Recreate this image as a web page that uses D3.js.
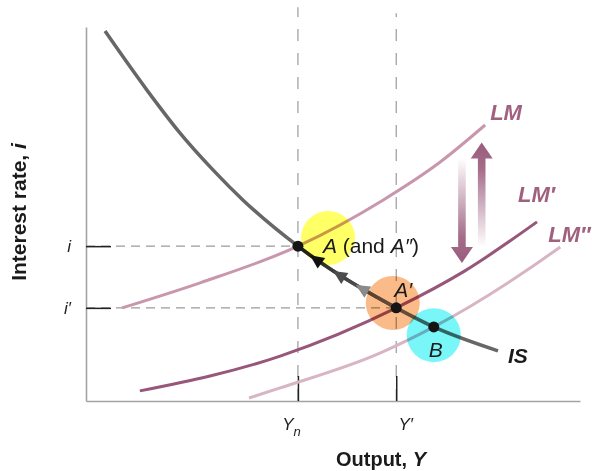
<!DOCTYPE html>
<html><head><meta charset="utf-8">
<script src="https://cdn.jsdelivr.net/npm/d3@7"></script>
<style>
html,body{margin:0;padding:0;background:#fff;}
svg{display:block;font-family:"Liberation Sans",Arial,Helvetica,sans-serif;}
</style></head><body>
<svg id="chart" width="592" height="471"></svg>
<script>
// Axis markers: output levels and interest rates
const outputTicks = [42.9, 62.8];          // Y_n, Y'
const outputTickLabels = ["Y|n", "Y′"];
const rateTicks = [41.4, 24.9];            // i, i'
const rateTickLabels = ["i", "i′"];

// Curves as [output, interest rate] points
const isPoints  = [[3.85,98.9],[12.3,83.2],[19.0,71.7],[25.7,61.8],[31.8,53.7],[42.9,41.4],[62.8,24.9],[70.4,19.8],[83.4,13.4]];
const lmPoints  = [[7.3,24.9],[23.1,31.6],[42.9,41.4],[60.1,53.7],[71.7,63.9],[80.8,73.8]];
const lm1Points = [[10.9,2.7],[39.3,12.0],[62.8,24.9],[76.7,34.8],[91.3,47.9]];
const lm2Points = [[33.0,0.8],[39.3,3.5],[59.5,12.8],[70.4,19.8],[89.3,35.0],[96.0,41.2]];
const curveNames = ["LM", "LM′", "LM″"];

// Equilibrium points
const eqNames  = ["A", "A′", "B"];
const eqOutput = [42.9, 62.8, 70.4];
const eqRate   = [41.4, 24.9, 19.8];

// Highlight discs around the equilibria
const haloOutput = [49.0, 62.1, 70.4];
const haloRate   = [43.6, 26.2, 17.6];

// Shift arrows for the LM curve: [output, tail rate, tip rate]
const shiftArrows = [[80.1, 41.2, 69.1], [76.1, 65.0, 36.9]];

const svg = d3.select("#chart");
const x = d3.scaleLinear().domain([0, 100]).range([86, 580]);
const y = d3.scaleLinear().domain([0, 100]).range([401, 27]);

const defs = svg.append("defs");

// Dashed guide lines
const guides = svg.append("g").attr("stroke", "#9b9b9b").attr("stroke-width", 1.2).attr("fill", "none");
guides.append("line").attr("x1", x(outputTicks[0])).attr("x2", x(outputTicks[0]))
  .attr("y1", y(0)).attr("y2", y(105.3)).attr("stroke-dasharray", "12,12");
guides.append("line").attr("x1", x(outputTicks[1])).attr("x2", x(outputTicks[1]))
  .attr("y1", y(0)).attr("y2", y(103.7)).attr("stroke-dasharray", "12,12");
guides.append("line").attr("x1", x(0)).attr("x2", x(outputTicks[0]))
  .attr("y1", y(rateTicks[0])).attr("y2", y(rateTicks[0])).attr("stroke-dasharray", "9,6");
guides.append("line").attr("x1", x(0)).attr("x2", x(outputTicks[1]))
  .attr("y1", y(rateTicks[1])).attr("y2", y(rateTicks[1])).attr("stroke-dasharray", "9,6");

// Axes
function styleAxis(g) {
  g.select(".domain").attr("stroke", "#a3a3a3").attr("stroke-width", 1.6);
  g.selectAll(".tick line").attr("stroke", "#222").attr("stroke-width", 1.5);
  g.selectAll(".tick text").attr("fill", "#222").attr("font-size", 17)
    .attr("font-style", "italic").attr("font-family", "Liberation Sans, Arial, sans-serif");
}
const gy = svg.append("g").attr("transform", `translate(${x(0)},0)`)
  .call(d3.axisLeft(y).tickValues(rateTicks).tickSizeInner(-25).tickSizeOuter(0)
    .tickPadding(15).tickFormat((d, i) => rateTickLabels[i]));
styleAxis(gy);

const gx = svg.append("g").attr("transform", `translate(0,${y(0)})`)
  .call(d3.axisBottom(x).tickValues(outputTicks).tickSizeInner(-25).tickSizeOuter(0)
    .tickPadding(17).tickFormat((d, i) => outputTickLabels[i]));
styleAxis(gx);
gx.selectAll(".tick text").each(function(d, i) {
  const t = d3.select(this);
  const parts = outputTickLabels[i].split("|");
  t.text(null);
  t.append("tspan").text(parts[0]);
  if (parts[1]) t.append("tspan").attr("dy", "0.45em").attr("font-size", 13).text(parts[1]);
  t.attr("dx", i === 0 ? -7 : 9);
});

// Curves
const line = d3.line().x(d => x(d[0])).y(d => y(d[1])).curve(d3.curveMonotoneX);
const curves = svg.append("g").attr("fill", "none").attr("stroke-linecap", "butt");
curves.append("path").datum(lm2Points).attr("d", line).attr("stroke", "#d8b5c4").attr("stroke-width", 3);
curves.append("path").datum(lmPoints).attr("d", line).attr("stroke", "#c997ad").attr("stroke-width", 3);
curves.append("path").datum(lm1Points).attr("d", line).attr("stroke", "#97567a").attr("stroke-width", 3);
const isPath = curves.append("path").datum(isPoints).attr("d", line)
  .attr("stroke", "#676767").attr("stroke-width", 3.5);

// Path from A' back to A along IS
const node = isPath.node();
const total = node.getTotalLength();
function lengthAtX(px) {
  let lo = 0, hi = total;
  for (let k = 0; k < 40; k++) {
    const mid = (lo + hi) / 2;
    if (node.getPointAtLength(mid).x < px) lo = mid; else hi = mid;
  }
  return (lo + hi) / 2;
}
const lA = lengthAtX(x(eqOutput[0]));
const lA1 = lengthAtX(x(eqOutput[1]));
const seg = d3.range(0, 41).map(k => {
  const p = node.getPointAtLength(lA + (lA1 - lA) * k / 40);
  return [p.x, p.y];
});
const grad = defs.append("linearGradient").attr("id", "moveGrad").attr("gradientUnits", "userSpaceOnUse")
  .attr("x1", x(eqOutput[1])).attr("y1", y(eqRate[1])).attr("x2", x(eqOutput[0])).attr("y2", y(eqRate[0]));
grad.append("stop").attr("offset", 0).attr("stop-color", "#6c6c6c");
grad.append("stop").attr("offset", 1).attr("stop-color", "#1c1c1c");
svg.append("path").attr("d", d3.line()(seg)).attr("fill", "none")
  .attr("stroke", "url(#moveGrad)").attr("stroke-width", 3.5);

// Highlight discs
const haloColors = ["#ffff66", "#fbbb89", "#78f6f8"];
svg.append("g").selectAll("circle").data(haloOutput).join("circle")
  .attr("cx", (d, i) => x(d)).attr("cy", (d, i) => y(haloRate[i])).attr("r", 27)
  .attr("fill", (d, i) => haloColors[i]).style("mix-blend-mode", "multiply");

// Arrowheads on the movement from A' to A
const arrowFracs = [0.13, 0.37, 0.60];
const arrowColors = ["#111", "#4d4d4d", "#8a8a8a"];
svg.append("g").selectAll("path").data(arrowFracs).join("path")
  .attr("d", "M0,0L-14,-6.5L-14,6.5Z")
  .attr("fill", (d, i) => arrowColors[i])
  .attr("transform", d => {
    const l = lA + (lA1 - lA) * d;
    const p = node.getPointAtLength(l), q = node.getPointAtLength(l + 1);
    const ang = Math.atan2(p.y - q.y, p.x - q.x) * 180 / Math.PI;
    return `translate(${p.x},${p.y}) rotate(${ang})`;
  });

// Equilibrium dots
svg.append("g").selectAll("circle").data(eqOutput).join("circle")
  .attr("cx", d => x(d)).attr("cy", (d, i) => y(eqRate[i])).attr("r", 5.5).attr("fill", "#151515");

// LM shift arrows
shiftArrows.forEach((a, k) => {
  const cx = x(a[0]), y0 = y(a[1]), y1 = y(a[2]);
  const dir = y1 < y0 ? -1 : 1;
  const headLen = 16, hw = 11, sw = 3.8;
  const yb = y1 - dir * headLen;
  const g = defs.append("linearGradient").attr("id", "shift" + k).attr("gradientUnits", "userSpaceOnUse")
    .attr("x1", cx).attr("y1", y0).attr("x2", cx).attr("y2", y1);
  g.append("stop").attr("offset", 0).attr("stop-color", "#ffffff");
  g.append("stop").attr("offset", 0.75).attr("stop-color", "#a46d89");
  g.append("stop").attr("offset", 1).attr("stop-color", "#9a5c7c");
  const d = `M${cx - sw},${y0}L${cx - sw},${yb}L${cx - hw},${yb}L${cx},${y1}L${cx + hw},${yb}L${cx + sw},${yb}L${cx + sw},${y0}Z`;
  svg.append("path").attr("d", d).attr("fill", `url(#shift${k})`);
});

// Labels
const lab = svg.append("g").attr("font-style", "italic").attr("fill", "#1a1a1a");
const t0 = lab.append("text").attr("x", x(eqOutput[0]) + 25).attr("y", y(eqRate[0]) + 7).attr("font-size", 21);
t0.append("tspan").text("A");
t0.append("tspan").attr("font-style", "normal").text(" (and ");
t0.append("tspan").text("A″");
t0.append("tspan").attr("font-style", "normal").text(")");
lab.append("text").attr("x", x(eqOutput[1]) - 2).attr("y", y(eqRate[1]) - 11).attr("font-size", 21).text(eqNames[1]);
lab.append("text").attr("x", x(eqOutput[2]) + 2).attr("y", y(eqRate[2]) + 30).attr("font-size", 21)
  .attr("text-anchor", "middle").text(eqNames[2]);
lab.append("text").attr("x", x(isPoints[isPoints.length - 1][0]) + 10).attr("y", y(isPoints[isPoints.length - 1][1]) + 12)
  .attr("font-size", 21).attr("font-weight", "bold").text("IS");

const lmEnds = [lmPoints, lm1Points, lm2Points].map(p => p[p.length - 1]);
const lmOffsets = [[5, -5], [-19, -20], [-12, -5]];
svg.append("g").selectAll("text").data(curveNames).join("text")
  .attr("x", (d, i) => x(lmEnds[i][0]) + lmOffsets[i][0])
  .attr("y", (d, i) => y(lmEnds[i][1]) + lmOffsets[i][1])
  .attr("font-size", 22).attr("font-weight", "bold").attr("font-style", "italic")
  .attr("fill", "#a0617f").text(d => d);

// Axis titles
const yt = svg.append("text").attr("transform", "translate(26,212) rotate(-90)")
  .attr("text-anchor", "middle").attr("font-size", 21).attr("font-weight", "bold").attr("fill", "#1a1a1a");
yt.append("tspan").text("Interest rate, ");
yt.append("tspan").attr("font-style", "italic").text("i");
const xt = svg.append("text").attr("x", 381).attr("y", 466)
  .attr("text-anchor", "middle").attr("font-size", 20).attr("font-weight", "bold").attr("fill", "#1a1a1a");
xt.append("tspan").text("Output, ");
xt.append("tspan").attr("font-style", "italic").text("Y");
</script>
</body></html>
